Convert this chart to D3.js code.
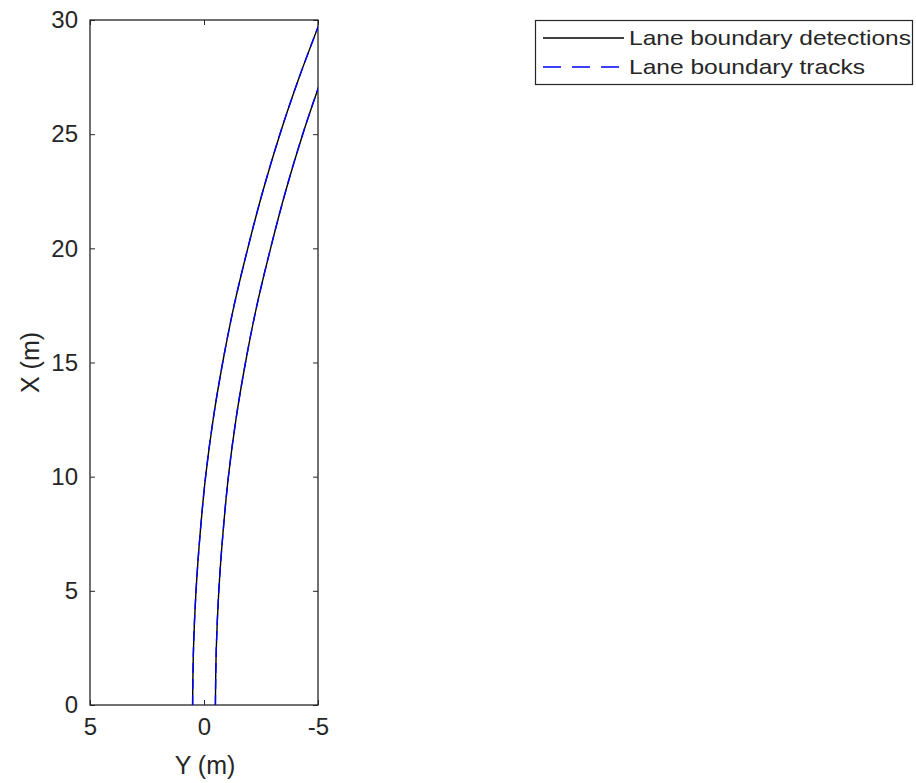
<!DOCTYPE html>
<html>
<head>
<meta charset="utf-8">
<script src="https://cdn.jsdelivr.net/npm/d3@7"></script>
<style>
  html, body { margin: 0; padding: 0; background: #fff; }
  svg { display: block; }
  text { font-family: "Liberation Sans", Arial, sans-serif; fill: #262626; }
</style>
</head>
<body>
<svg id="chart" width="916" height="783"></svg>
<script>
// ---- data ----
const longitudinalX = [0, 2.5, 5, 7.5, 10, 12.5, 15, 17.5, 20, 22.5, 25, 27.5, 30];
const leftBoundaryY = [0.5, 0.46, 0.35, 0.17, -0.07, -0.4, -0.82, -1.32, -1.92, -2.58, -3.33, -4.18, -5.12];
const rightBoundaryY = [-0.5, -0.54, -0.65, -0.83, -1.07, -1.4, -1.82, -2.32, -2.92, -3.58, -4.33, -5.18, -6.1];
const xTickValues = [5, 0, -5];           // lateral Y (m), reversed axis
const yTickValues = [0, 5, 10, 15, 20, 25, 30];
const legendLabels = ["Lane boundary detections", "Lane boundary tracks"];

// ---- layout ----
const svg = d3.select("#chart");
const plot = { left: 90, right: 318, top: 20, bottom: 705 };

const xScale = d3.scaleLinear().domain([5, -5]).range([plot.left, plot.right]);
const yScale = d3.scaleLinear().domain([0, 30]).range([plot.bottom, plot.top]);

const axisColor = "#262626";

// clip
svg.append("defs").append("clipPath").attr("id", "clip")
  .append("rect")
  .attr("x", plot.left).attr("y", plot.top)
  .attr("width", plot.right - plot.left).attr("height", plot.bottom - plot.top);

// axes
const fmt = d => String(d);
function styleAxis(g, showText) {
  g.select(".domain").remove();
  g.selectAll(".tick line").attr("stroke", axisColor).attr("stroke-width", 1);
  g.selectAll(".tick text").attr("fill", axisColor).style("font-size", "24px")
    .style("font-family", "'Liberation Sans', Arial, sans-serif");
  if (!showText) g.selectAll(".tick text").remove();
}

svg.append("g").attr("transform", `translate(0,${plot.bottom})`)
  .call(d3.axisBottom(xScale).tickValues(xTickValues).tickFormat(fmt).tickSizeInner(-5).tickSizeOuter(0).tickPadding(13))
  .call(g => styleAxis(g, true));
svg.append("g").attr("transform", `translate(0,${plot.top})`)
  .call(d3.axisTop(xScale).tickValues(xTickValues).tickFormat(fmt).tickSizeInner(-5).tickSizeOuter(0))
  .call(g => styleAxis(g, false));
svg.append("g").attr("transform", `translate(${plot.left},0)`)
  .call(d3.axisLeft(yScale).tickValues(yTickValues).tickFormat(fmt).tickSizeInner(-5).tickSizeOuter(0).tickPadding(12))
  .call(g => styleAxis(g, true));
svg.append("g").attr("transform", `translate(${plot.right},0)`)
  .call(d3.axisRight(yScale).tickValues(yTickValues).tickFormat(fmt).tickSizeInner(-5).tickSizeOuter(0))
  .call(g => styleAxis(g, false));

// box
svg.append("rect")
  .attr("x", plot.left).attr("y", plot.top)
  .attr("width", plot.right - plot.left).attr("height", plot.bottom - plot.top)
  .attr("fill", "none").attr("stroke", axisColor).attr("stroke-width", 1.3);

// axis labels
svg.append("text")
  .attr("x", (plot.left + plot.right) / 2 + 1).attr("y", 774)
  .attr("text-anchor", "middle").style("font-size", "25px")
  .text("Y (m)");
svg.append("text")
  .attr("transform", `translate(39,${(plot.top + plot.bottom) / 2}) rotate(-90)`)
  .attr("text-anchor", "middle").style("font-size", "25px")
  .text("X (m)");

// lane curves
const line = d3.line()
  .x(d => xScale(d[1]))
  .y(d => yScale(d[0]))
  .curve(d3.curveCatmullRom.alpha(0.5));

const boundaries = [leftBoundaryY, rightBoundaryY].map(ys => longitudinalX.map((xv, i) => [xv, ys[i]]));
const curves = svg.append("g").attr("clip-path", "url(#clip)");

boundaries.forEach(pts => {
  curves.append("path").attr("d", line(pts))
    .attr("fill", "none").attr("stroke", "#000").attr("stroke-width", 1.4);
});
boundaries.forEach(pts => {
  curves.append("path").attr("d", line(pts))
    .attr("fill", "none").attr("stroke", "#0000ff").attr("stroke-width", 1.4)
    .attr("stroke-dasharray", "10,6");
});

// legend
const lg = svg.append("g");
lg.append("rect")
  .attr("x", 535.5).attr("y", 20.5).attr("width", 377).attr("height", 64)
  .attr("fill", "#fff").attr("stroke", axisColor).attr("stroke-width", 1.2);
const rows = [
  { y: 38, color: "#000", dash: null },
  { y: 67, color: "#0000ff", dash: "18,11" }
];
rows.forEach((r, i) => {
  lg.append("line")
    .attr("x1", 543).attr("x2", 624).attr("y1", r.y).attr("y2", r.y)
    .attr("stroke", r.color).attr("stroke-width", 1.4)
    .attr("stroke-dasharray", r.dash);
  const t = lg.append("text")
    .attr("x", 629).attr("y", r.y + 7)
    .style("font-size", "21px")
    .text(legendLabels[i]);
  if (i === 0) t.attr("textLength", 282).attr("lengthAdjust", "spacingAndGlyphs");
  else t.attr("textLength", 236).attr("lengthAdjust", "spacingAndGlyphs");
});
</script>
</body>
</html>
